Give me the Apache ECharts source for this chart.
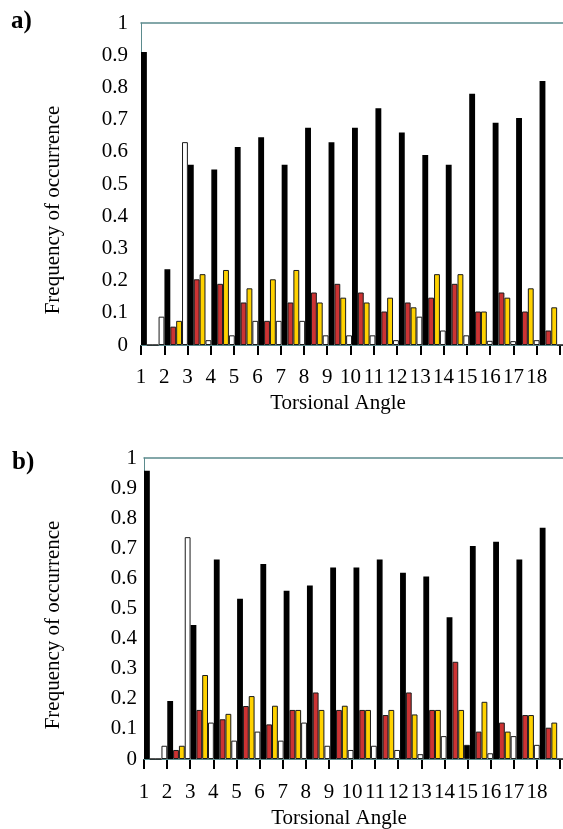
<!DOCTYPE html>
<html>
<head>
<meta charset="utf-8">
<script src="https://cdn.jsdelivr.net/npm/echarts@6/dist/echarts.min.js"></script>
<style>
html, body { margin: 0; padding: 0; background: #fff; }
#chart { width: 563px; height: 829px; }
</style>
</head>
<body>
<div id="chart"></div>
<script>
// torsional angle numbers (labels sit on the group boundaries)
const angles = ["1","2","3","4","5","6","7","8","9","10","11","12","13","14","15","16","17","18"];
const yTicks = [0, 0.1, 0.2, 0.3, 0.4, 0.5, 0.6, 0.7, 0.8, 0.9, 1];

// panel a)
const blackA  = [0.91, 0.235, 0.56, 0.545, 0.615, 0.645, 0.56, 0.675, 0.63, 0.675, 0.735, 0.66, 0.59, 0.56, 0.78, 0.69, 0.705, 0.82];
const redA    = [0, 0.057, 0.204, 0.19, 0.132, 0.075, 0.132, 0.163, 0.19, 0.163, 0.104, 0.132, 0.147, 0.19, 0.104, 0.163, 0.104, 0.045];
const yellowA = [0, 0.075, 0.22, 0.233, 0.176, 0.204, 0.233, 0.132, 0.147, 0.132, 0.147, 0.117, 0.22, 0.22, 0.104, 0.147, 0.176, 0.117];
const whiteA  = [0.088, 0.63, 0.015, 0.03, 0.075, 0.075, 0.075, 0.03, 0.03, 0.03, 0.015, 0.088, 0.045, 0.03, 0.013, 0.012, 0.015, 0];

// panel b)
const blackB  = [0.958, 0.193, 0.445, 0.663, 0.532, 0.648, 0.559, 0.576, 0.636, 0.636, 0.663, 0.619, 0.606, 0.471, 0.708, 0.722, 0.663, 0.768];
const redB    = [0, 0.03, 0.163, 0.132, 0.176, 0.115, 0.163, 0.221, 0.163, 0.163, 0.146, 0.221, 0.163, 0.323, 0.091, 0.121, 0.146, 0.104];
const yellowB = [0, 0.044, 0.279, 0.15, 0.209, 0.177, 0.163, 0.163, 0.177, 0.163, 0.163, 0.148, 0.163, 0.163, 0.19, 0.091, 0.146, 0.121];
const whiteB  = [0.044, 0.737, 0.121, 0.061, 0.091, 0.061, 0.121, 0.044, 0.03, 0.044, 0.03, 0.016, 0.076, 0.047, 0.019, 0.076, 0.047, 0];

const FONT = "Liberation Serif";
const LINE = "#5b8b8d";

// bar grid p*2, thin tick strip p*2+1 right under it
function xAxesFor(p, labelMargin) {
  let g = p * 2;
  return [
    {
      // bars
      gridIndex: g, type: "category", position: "bottom", data: angles,
      axisLine: { lineStyle: { color: LINE, width: 1 } },
      axisTick: { show: false }, axisLabel: { show: false }, splitLine: { show: false }
    },
    {
      // top frame line
      gridIndex: g, type: "category", position: "top", data: angles,
      axisLine: { lineStyle: { color: LINE, width: 1.5 } },
      axisTick: { show: false }, axisLabel: { show: false }
    },
    {
      // tick marks (split lines of the strip) and labels on the group boundaries
      gridIndex: g + 1, type: "category", position: "bottom", boundaryGap: false,
      data: angles.concat([""]),
      axisLine: { show: false }, axisTick: { show: false },
      splitLine: { show: true, interval: 0, lineStyle: { color: "#000", width: 2 } },
      axisLabel: { interval: 0, margin: labelMargin, color: "#000", fontFamily: FONT, fontSize: 21 }
    }
  ];
}

function yAxesFor(p, margin) {
  return [
    {
      gridIndex: p * 2, type: "value", min: yTicks[0], max: yTicks[yTicks.length - 1], interval: 0.1,
      axisLine: { show: true, lineStyle: { color: LINE, width: 1 } },
      axisTick: { show: false }, splitLine: { show: false },
      axisLabel: { margin: margin, color: "#000", fontFamily: FONT, fontSize: 21 }
    },
    { gridIndex: p * 2 + 1, type: "value", show: false, min: 0, max: 1, splitLine: { show: false } }
  ];
}

function barsFor(p, black, red, yellow, white) {
  let base = { type: "bar", xAxisIndex: p * 3, yAxisIndex: p * 2, barGap: "0%", barCategoryGap: "0%" };
  return [
    Object.assign({ name: "black", data: black, itemStyle: { color: "#000", borderColor: "#000", borderWidth: 1.5 } }, base),
    Object.assign({ name: "red", data: red, itemStyle: { color: "#cc3333", borderColor: "#1a1a1a", borderWidth: 1 } }, base),
    Object.assign({ name: "yellow", data: yellow, itemStyle: { color: "#ffd200", borderColor: "#1a1a1a", borderWidth: 1 } }, base),
    Object.assign({ name: "white", data: white, itemStyle: { color: "#fff", borderColor: "#1a1a1a", borderWidth: 1 } }, base)
  ];
}

function axisTitle(x, y, text, rotated) {
  return {
    type: "text", x: x, y: y, rotation: rotated ? Math.PI / 2 : 0,
    style: { text: text, font: "21px '" + FONT + "'", fill: "#000", align: "center", verticalAlign: "middle" }
  };
}

var myChart = echarts.init(document.getElementById("chart"));

// in b) the last bar of angle 14 is drawn filled
let whiteBData = whiteB.map((v, i) => (i === 13 ? { value: v, itemStyle: { color: "#000" } } : v));

let option = {
  animation: false,
  grid: [
    { left: 141, top: 23, width: 426, height: 322 },
    { left: 141, top: 345, width: 426, height: 10 },
    { left: 144, top: 458, width: 425, height: 301 },
    { left: 144, top: 759, width: 425, height: 10 }
  ],
  xAxis: xAxesFor(0, 12).concat(xAxesFor(1, 13)),
  yAxis: yAxesFor(0, 13).concat(yAxesFor(1, 7)),
  series: barsFor(0, blackA, redA, yellowA, whiteA).concat(barsFor(1, blackB, redB, yellowB, whiteBData)),
  graphic: [
    { type: "text", left: 11, top: 9, style: { text: "a)", font: "bold 25px '" + FONT + "'", fill: "#000" } },
    { type: "text", left: 12, top: 450, style: { text: "b)", font: "bold 25px '" + FONT + "'", fill: "#000" } },
    axisTitle(53, 210, "Frequency of occurrence", true),
    axisTitle(53, 625, "Frequency of occurrence", true),
    axisTitle(338, 403, "Torsional Angle", false),
    axisTitle(339, 818, "Torsional Angle", false)
  ]
};

myChart.setOption(option);
</script>
</body>
</html>
